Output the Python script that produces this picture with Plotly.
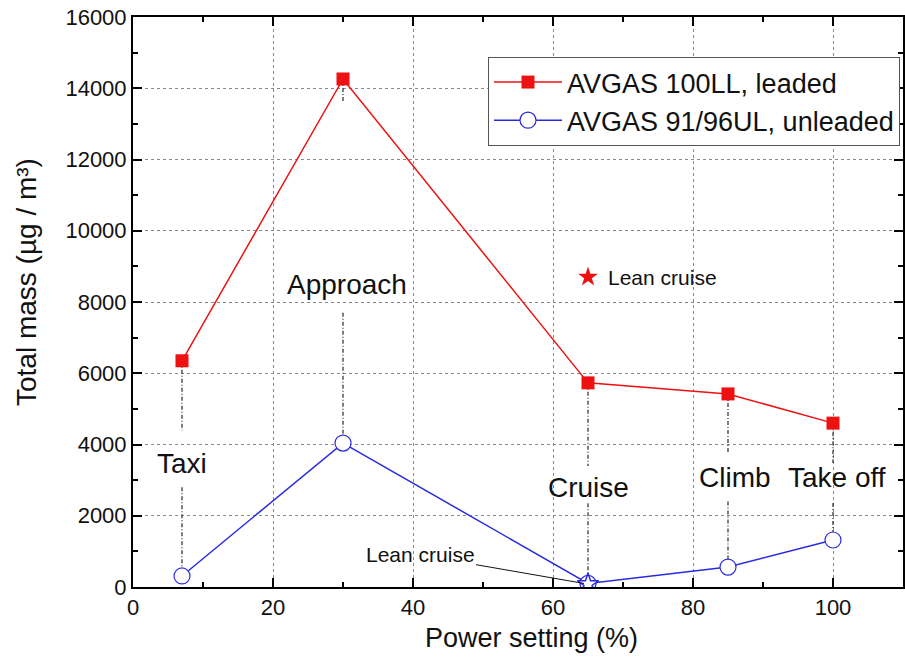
import plotly.graph_objects as go

# ---- data ----
power = [7, 30, 65, 85, 100]
leaded = [6350, 14260, 5730, 5420, 4600]
unleaded = [310, 4040, 100, 560, 1320]
phase_labels = ["Taxi", "Approach", "Cruise", "Climb", "Take off"]
phase_label_x = [7, 30.5, 65, 86, 100.5]
phase_label_y = [3480, 8480, 2780, 3060, 3060]
drop_upper_end = [4400, 13600, 3400, 3750, 3480]
drop_lower_start = [2800, 7700, 2350, 2400, 2360]
lean_power = [65]
lean_leaded = [8700]
lean_unleaded = [80]
x_ticks = [0, 20, 40, 60, 80, 100]
y_ticks = [0, 2000, 4000, 6000, 8000, 10000, 12000, 14000, 16000]

FONT = "Liberation Sans, Arial, sans-serif"
RED = "#ee1111"
BLUE = "#2a2ae0"

W, H = 905, 662
L, R, T, B = 133, 2, 17, 75
pw, ph = W - L - R, H - T - B


def px_to_paper(px, py):
    """screen pixel position -> paper coords"""
    return (px - L) / pw, (H - B - py) / ph


fig = go.Figure()

# drop lines (dash-dot), built from the data arrays
dx, dy = [], []
for i, p in enumerate(power):
    dx += [p, p, None, p, p, None]
    dy += [leaded[i], drop_upper_end[i], None, drop_lower_start[i], unleaded[i], None]
fig.add_trace(go.Scatter(x=dx, y=dy, mode="lines", showlegend=False, hoverinfo="skip",
                         line=dict(color="#2a2a2a", width=1.2, dash="4px,2px,1px,2px")))

fig.add_trace(go.Scatter(x=power, y=leaded, mode="lines+markers", name="AVGAS 100LL, leaded",
                         line=dict(color=RED, width=1.5),
                         marker=dict(symbol="square", size=13, color=RED)))
fig.add_trace(go.Scatter(x=power, y=unleaded, mode="lines+markers", name="AVGAS 91/96UL, unleaded",
                         line=dict(color=BLUE, width=1.5),
                         marker=dict(symbol="circle", size=16, color="white",
                                     line=dict(color=BLUE, width=1.2))))
# lean cruise stars
fig.add_trace(go.Scatter(x=lean_power, y=lean_leaded, mode="markers", showlegend=False,
                         marker=dict(symbol="star", size=15, color=RED)))
fig.add_trace(go.Scatter(x=lean_power, y=lean_unleaded, mode="markers", showlegend=False,
                         marker=dict(symbol="star", size=16, color="white",
                                     line=dict(color=BLUE, width=1.5))))

annotations = []
for lx, ly, t in zip(phase_label_x, phase_label_y, phase_labels):
    annotations.append(dict(x=lx, y=ly, text=t, showarrow=False, xref="x", yref="y",
                            font=dict(family=FONT, size=28, color="#111111")))
annotations.append(dict(x=lean_power[0], y=lean_leaded[0], text="Lean cruise", showarrow=False,
                        xref="x", yref="y", xanchor="left", xshift=18,
                        font=dict(family=FONT, size=21, color="#111111")))
annotations.append(dict(x=lean_power[0], y=lean_unleaded[0], text="Lean cruise", showarrow=True,
                        arrowhead=0, arrowwidth=1, arrowcolor="#111111",
                        xref="x", yref="y", axref="x", ayref="y", ax=41, ay=900,
                        standoff=4,
                        font=dict(family=FONT, size=21, color="#111111")))
# axis titles
xt = px_to_paper(531, 638)
annotations.append(dict(x=xt[0], y=xt[1], xref="paper", yref="paper", text="Power setting (%)",
                        xanchor="center", yanchor="middle",
                        showarrow=False, font=dict(family=FONT, size=27, color="#111111")))
yt = px_to_paper(26, 282)
annotations.append(dict(x=yt[0], y=yt[1], xref="paper", yref="paper", text="Total mass (µg / m³)",
                        xanchor="center", yanchor="middle",
                        textangle=-90, showarrow=False,
                        font=dict(family=FONT, size=28, color="#111111")))

lg = px_to_paper(900, 57)
fig.update_layout(
    width=W, height=H,
    margin=dict(l=L, r=R, t=T, b=B, autoexpand=False),
    paper_bgcolor="white", plot_bgcolor="white",
    font=dict(family=FONT, size=21, color="#111111"),
    annotations=annotations,
    showlegend=True,
    legend=dict(x=lg[0], y=lg[1], xanchor="right", yanchor="top",
                bgcolor="white", bordercolor="#555555", borderwidth=1,
                font=dict(family=FONT, size=27, color="#111111"),
                itemwidth=68, tracegroupgap=0),
)
fig.update_xaxes(range=[0, 110], tickvals=x_ticks, automargin=False, ticklabeloverflow="allow",
                 ticks="inside", ticklen=9, tickwidth=2, tickcolor="black",
                 minor=dict(dtick=10, ticks="inside", ticklen=5, tickwidth=2, tickcolor="black", showgrid=False),
                 showline=True, linecolor="black", linewidth=2, mirror="allticks",
                 showgrid=True, gridcolor="#888888", gridwidth=1, griddash="dot",
                 zeroline=False, tickfont=dict(size=22))
fig.update_yaxes(range=[0, 16000], tickvals=y_ticks, ticktext=[str(v) for v in y_ticks],
                 automargin=False, ticklabeloverflow="allow",
                 ticks="inside", ticklen=9, tickwidth=2, tickcolor="black",
                 minor=dict(dtick=1000, ticks="inside", ticklen=5, tickwidth=2, tickcolor="black", showgrid=False),
                 showline=True, linecolor="black", linewidth=2, mirror="allticks",
                 showgrid=True, gridcolor="#888888", gridwidth=1, griddash="dot",
                 zeroline=False, tickfont=dict(size=22))

fig.write_html("out.html", config={"displayModeBar": False},
               post_script="document.body.style.margin='0';document.body.style.overflow='hidden';")
